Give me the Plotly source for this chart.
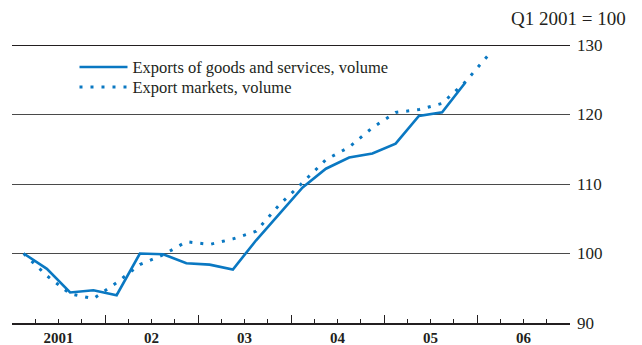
import plotly.graph_objects as go

# Quarterly series, Q1 2001 = 100
years = [2001, 2002, 2003, 2004, 2005, 2006]
year_labels = ["2001", "02", "03", "04", "05", "06"]

exports_volume = [
    100.0, 97.8, 94.4, 94.7,      # 2001
    94.0, 100.0, 99.9, 98.6,      # 2002
    98.4, 97.7, 101.9, 105.7,     # 2003
    109.5, 112.2, 113.8, 114.4,   # 2004
    115.8, 119.8, 120.3, 124.6,   # 2005
]
export_markets = [
    100.0, 96.8, 94.2, 93.5,      # 2001
    95.8, 98.4, 99.8, 101.7,      # 2002
    101.3, 102.1, 103.2, 107.0,   # 2003
    110.2, 113.5, 115.3, 118.1,   # 2004
    120.3, 120.7, 121.6, 124.7,   # 2005
    128.6,                        # 2006
]

y_ticks = [90, 100, 110, 120, 130]


def quarter_pos(n):
    # centre of each quarter on a continuous year scale
    return [years[0] + (i + 0.5) / 4 for i in range(n)]


blue = "#0a78c2"
ink = "#231f20"
serif = "Liberation Serif, Times New Roman, serif"
x_range = [years[0], years[-1] + 1]

fig = go.Figure()
fig.add_trace(go.Scatter(
    x=quarter_pos(len(exports_volume)), y=exports_volume,
    mode="lines", name="Exports of goods and services, volume",
    line=dict(color=blue, width=2.6), legend="legend",
))
fig.add_trace(go.Scatter(
    x=quarter_pos(len(export_markets)), y=export_markets,
    mode="lines", name="Export markets, volume",
    line=dict(color=blue, width=3, dash="3px,8px"), legend="legend2",
))
# transparent trace that carries the year-boundary tick axis
fig.add_trace(go.Scatter(
    x=x_range, y=[y_ticks[0], y_ticks[0]], xaxis="x2",
    mode="lines", line=dict(width=0, color="rgba(0,0,0,0)"),
    showlegend=False, hoverinfo="skip",
))

legend_style = dict(
    xanchor="left", yanchor="middle",
    bgcolor="rgba(0,0,0,0)", borderwidth=0,
    font=dict(family=serif, size=16.5, color=ink),
    itemwidth=48,
)

fig.update_layout(
    width=642, height=345,
    margin=dict(l=12, r=72, t=45, b=22),
    paper_bgcolor="white", plot_bgcolor="white",
    font=dict(family=serif, color=ink, size=16),
    showlegend=True,
    legend=dict(x=0.112, y=0.92, **legend_style),
    legend2=dict(x=0.112, y=0.848, **legend_style),
    xaxis=dict(
        range=x_range, automargin=False,
        tickvals=[y + 0.5 for y in years], ticktext=year_labels,
        ticks="", showgrid=False, zeroline=False,
        showline=True, linecolor=ink, linewidth=1.5,
        tickfont=dict(family=serif, size=15, color=ink, weight="bold"),
        ticklabelstandoff=0,
    ),
    xaxis2=dict(
        range=x_range, overlaying="x", side="bottom", anchor="y",
        automargin=False,
        tickvals=years + [years[-1] + 1], showticklabels=False,
        ticks="inside", ticklen=8, tickwidth=1.3, tickcolor=ink,
        showgrid=False, zeroline=False, showline=False,
        minor=dict(dtick=0.25, tick0=years[0], ticks="inside",
                   ticklen=4, tickwidth=1.1, tickcolor=ink),
    ),
    yaxis=dict(
        range=[90, 130], side="right", automargin=False,
        tickvals=y_ticks, ticks="",
        showgrid=True, gridcolor="#4a4a4a", gridwidth=1,
        zeroline=False, showline=False,
        tickfont=dict(family=serif, size=17, color=ink),
        ticklabelstandoff=6,
    ),
    shapes=[dict(
        type="line", xref="paper", yref="y",
        x0=0, x1=1, y0=y_ticks[-1], y1=y_ticks[-1],
        line=dict(color=ink, width=2.2),
    )],
    annotations=[dict(
        text="Q1 2001 = 100", xref="paper", yref="paper",
        x=1.0, y=1.0, xanchor="right", yanchor="bottom",
        xshift=58, yshift=14, showarrow=False,
        font=dict(family=serif, size=19, color=ink),
    )],
)

fig.write_html("out.html")
